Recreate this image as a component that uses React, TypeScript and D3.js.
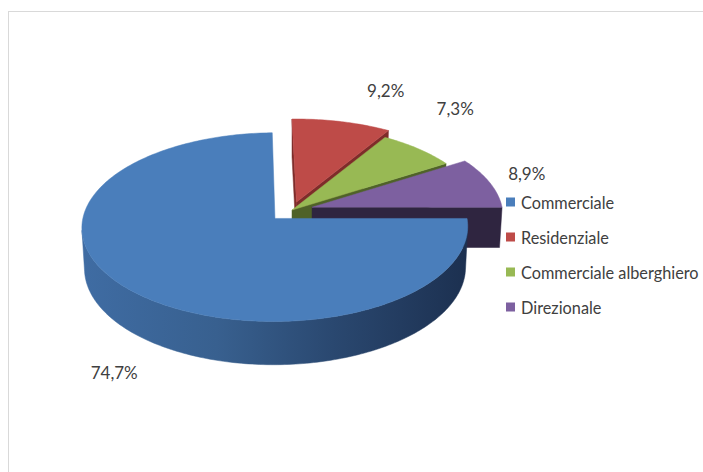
import React from "react";
import * as d3 from "d3";

// ---- data ----
const categories = ["Commerciale", "Residenziale", "Commerciale alberghiero", "Direzionale"];
const values = [74.7, 9.2, 7.3, 8.9];
const valueLabels = ["74,7%", "9,2%", "7,3%", "8,9%"];

// ---- styles ----
const topColors = ["#4A7EBB", "#BE4B48", "#98B954", "#7D60A0"];
const faceColors = ["#243D5E", "#7E2C2A", "#4F6228", "#2F2540"];
const explode = [0.127, 0.09, 0, 0.11];
const labelNudge: [number, number][] = [[-18, 40], [44, -31], [37, -40], [37, -9]];

const W = 703;
const H = 472;
const CX = 292;
const CY = 210;
const S = 190.5;
const SIN_A = 0.483;
const COS_A = Math.sqrt(1 - SIN_A * SIN_A);
const DIST = 9.6;
const THICK = 0.245;
const CAM: [number, number, number] = [0, DIST * SIN_A, DIST * COS_A];

type V3 = [number, number, number];

function project(p: V3): [number, number] {
  const [x, y, z] = p;
  const d = DIST - (z * COS_A + y * SIN_A);
  const f = DIST / d;
  return [CX + S * x * f, CY + S * (z * SIN_A - y * COS_A) * f];
}

function dist(p: V3) {
  return Math.hypot(p[0] - CAM[0], p[1] - CAM[1], p[2] - CAM[2]);
}

function centroid(pts: V3[]): V3 {
  const n = pts.length;
  return [
    d3.sum(pts, (p) => p[0]) / n,
    d3.sum(pts, (p) => p[1]) / n,
    d3.sum(pts, (p) => p[2]) / n,
  ];
}

function facing(n: V3, p: V3) {
  return n[0] * (CAM[0] - p[0]) + n[1] * (CAM[1] - p[1]) + n[2] * (CAM[2] - p[2]) > 0;
}

const line = d3.line<[number, number]>().curve(d3.curveLinearClosed);

type Face = { d: string; fill: string; depth: number; key: string };

export default function App() {
  const arcs = d3
    .pie<number>()
    .sort(null)
    .startAngle(Math.PI / 2)
    .endAngle(Math.PI / 2 + 2 * Math.PI)(values);

  const sides: Face[] = [];
  const tops: Face[] = [];
  const labels: { x: number; y: number; text: string }[] = [];
  let gradX0 = 0;
  let gradX1 = 0;

  arcs.forEach((a, i) => {
    const a0 = a.startAngle;
    const a1 = a.endAngle;
    const mid = (a0 + a1) / 2;
    const ox = explode[i] * Math.sin(mid);
    const oz = -explode[i] * Math.cos(mid);
    const rim = (ang: number, y: number): V3 => [ox + Math.sin(ang), y, oz - Math.cos(ang)];
    const ctr = (y: number): V3 => [ox, y, oz];

    const steps = Math.max(2, Math.ceil((a1 - a0) / (Math.PI / 180)));
    const angs = d3.range(steps + 1).map((k) => a0 + ((a1 - a0) * k) / steps);

    // top
    const topPts: V3[] = [ctr(0), ...angs.map((g) => rim(g, 0))];
    tops.push({
      d: line(topPts.map(project)) as string,
      fill: topColors[i],
      depth: 0,
      key: `top${i}`,
    });

    // outer wall runs
    let run: number[] = [];
    const flush = () => {
      if (run.length) {
        const ks = [...run, run[run.length - 1] + 1];
        const up = ks.map((k) => rim(angs[k], 0));
        const dn = ks.map((k) => rim(angs[k], -THICK)).reverse();
        const pts = [...up, ...dn];
        const proj = pts.map(project);
        if (i === 0) {
          gradX0 = d3.min(proj, (p) => p[0]) as number;
          gradX1 = d3.max(proj, (p) => p[0]) as number;
        }
        sides.push({
          d: line(proj) as string,
          fill: i === 0 ? "url(#blueWall)" : faceColors[i],
          depth: dist(centroid(pts)),
          key: `wall${i}-${run[0]}`,
        });
      }
      run = [];
    };
    for (let k = 0; k < steps; k++) {
      const am = (angs[k] + angs[k + 1]) / 2;
      const n: V3 = [Math.sin(am), 0, -Math.cos(am)];
      const p = rim(am, -THICK / 2);
      if (facing(n, p)) run.push(k);
      else flush();
    }
    flush();

    // radial faces
    const radial = (ang: number, n: V3, tag: string) => {
      const pts: V3[] = [ctr(0), rim(ang, 0), rim(ang, -THICK), ctr(-THICK)];
      const c = centroid(pts);
      if (!facing(n, c)) return;
      sides.push({
        d: line(pts.map(project)) as string,
        fill: faceColors[i],
        depth: dist(c),
        key: `rad${i}${tag}`,
      });
    };
    radial(a0, [-Math.cos(a0), 0, -Math.sin(a0)], "s");
    radial(a1, [Math.cos(a1), 0, Math.sin(a1)], "e");

    // label anchor
    const anchor = i === 0 ? project(rim(mid, -THICK)) : project(rim(mid, 0));
    labels.push({
      x: anchor[0] + labelNudge[i][0],
      y: anchor[1] + labelNudge[i][1],
      text: valueLabels[i],
    });
  });

  sides.sort((p, q) => q.depth - p.depth);

  const legendY = d3
    .scalePoint<string>()
    .domain(categories)
    .range([202, 307]);

  return (
    <svg
      width={W}
      height={H}
      style={{ position: "absolute", left: 0, top: 0, display: "block", background: "#fff" }}
    >
      <defs>
        <linearGradient
          id="blueWall"
          gradientUnits="userSpaceOnUse"
          x1={gradX0}
          x2={gradX1}
          y1={0}
          y2={0}
        >
          <stop offset="0" stopColor="#3F6CA3" />
          <stop offset="0.35" stopColor="#38608F" />
          <stop offset="0.65" stopColor="#2A4870" />
          <stop offset="1" stopColor="#1C3050" />
        </linearGradient>
      </defs>
      <rect x={8.5} y={11.5} width={720} height={500} fill="#fff" stroke="#D9D9D9" />
      {sides.map((f) => (
        <path key={f.key} d={f.d} fill={f.fill} stroke={f.fill} strokeWidth={0.5} strokeLinejoin="round" />
      ))}
      {tops.map((f) => (
        <path key={f.key} d={f.d} fill={f.fill} stroke={f.fill} strokeWidth={0.5} strokeLinejoin="round" />
      ))}
      {labels.map((l) => (
        <text
          key={l.text}
          x={l.x}
          y={l.y}
          textAnchor="middle"
          dominantBaseline="central"
          fontFamily="Lato, 'Open Sans', sans-serif"
          fontSize={17}
          fill="#404040"
        >
          {l.text}
        </text>
      ))}
      {categories.map((c, i) => {
        const y = legendY(c) as number;
        return (
          <g key={c}>
            <rect x={506} y={y - 4.5} width={9} height={9} fill={topColors[i]} />
            <text
              x={521}
              y={y}
              dominantBaseline="central"
              fontFamily="Lato, 'Open Sans', sans-serif"
              fontSize={16.3}
              fill="#404040"
            >
              {c}
            </text>
          </g>
        );
      })}
    </svg>
  );
}
